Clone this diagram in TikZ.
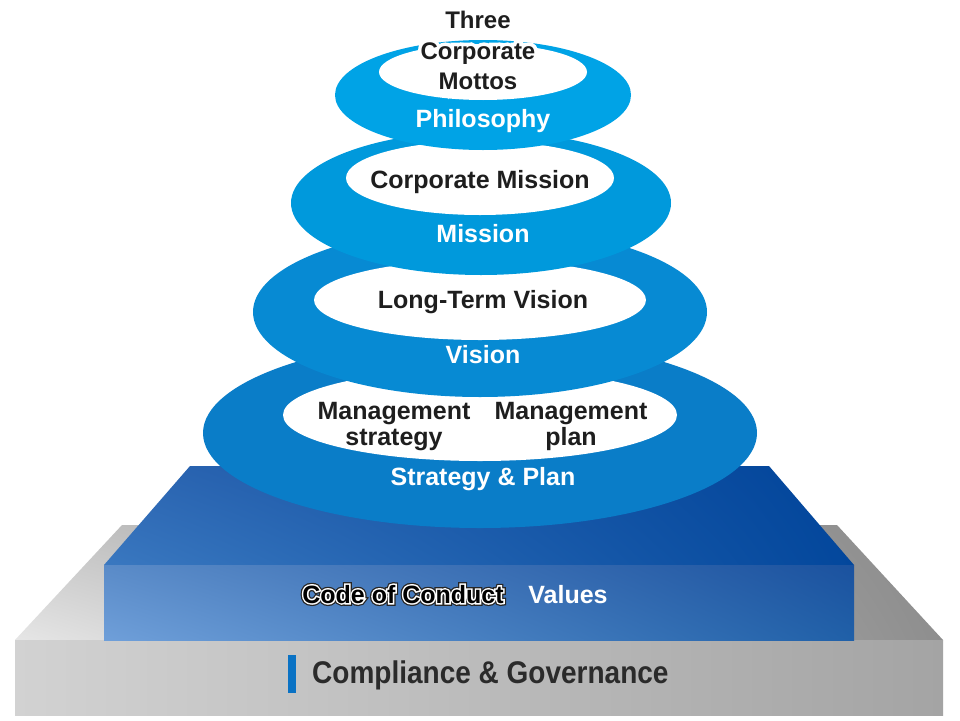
\documentclass[tikz,border=0pt]{standalone}
\usepackage{fontspec}
\setmainfont{Liberation Sans}
\newfontface\haloA{Liberation Sans Bold}[FakeBold=12]
\newfontface\haloB{Liberation Sans Bold}[FakeBold=22]
\newfontface\haloC{Liberation Sans Bold}[FakeBold=30]
\usepackage{graphicx}
\usetikzlibrary{shadings}
\definecolor{philo}{HTML}{00A3E6}
\definecolor{missi}{HTML}{0099DC}
\definecolor{visio}{HTML}{078AD3}
\definecolor{strat}{HTML}{0A7DC8}
\definecolor{ink}{HTML}{1E1E1E}
\definecolor{ink2}{HTML}{2B2B2B}
\definecolor{barblue}{HTML}{0A72C4}
\definecolor{gTL}{HTML}{C4C4C4}
\definecolor{gBL}{HTML}{E6E6E6}
\definecolor{gTR}{HTML}{8A8A8A}
\definecolor{gBR}{HTML}{8E8E8E}
\definecolor{gFL}{HTML}{D2D2D2}
\definecolor{gFR}{HTML}{A4A4A4}
\definecolor{bTL}{HTML}{2D66B2}
\definecolor{bBL}{HTML}{3A78C0}
\definecolor{bTR}{HTML}{00449A}
\definecolor{bBR}{HTML}{03479C}
\definecolor{fTL}{HTML}{5A8BC8}
\definecolor{fBL}{HTML}{6F9FD9}
\definecolor{fTR}{HTML}{1B529F}
\definecolor{fBR}{HTML}{2060A8}
\tikzset{
  lbl/.style={font=\bfseries\fontsize{25}{30}\selectfont, inner sep=0pt, anchor=base},
  lblsm/.style={font=\bfseries\fontsize{24}{30}\selectfont, inner sep=0pt, anchor=base},
  haloa/.style={font=\haloA\fontsize{25}{30}\selectfont, inner sep=0pt, anchor=base},
  halob/.style={font=\haloB\fontsize{25}{30}\selectfont, inner sep=0pt, anchor=base},
  halosm/.style={font=\haloC\fontsize{24}{30}\selectfont, inner sep=0pt, anchor=base},
}
\begin{document}
\begin{tikzpicture}[x=1pt,y=-1pt]
\useasboundingbox (0,0) rectangle (960,720);
\fill[white] (0,0) rectangle (960,720);
% gray base
\shade[upper left=gTL, lower left=gBL, upper right=gTR, lower right=gBR]
  (122,525) -- (837,525) -- (943,640) -- (15,640) -- cycle;
\shade[left color=gFL, right color=gFR] (15,640) rectangle (943,715);
% blue box
\shade[upper left=bTL, lower left=bBL, upper right=bTR, lower right=bBR]
  (190,466) -- (769,466) -- (854,565) -- (104,565) -- cycle;
\shade[upper left=fTL, lower left=fBL, upper right=fTR, lower right=fBR]
  (104,565) rectangle (854,640);
% strategy
\fill[strat] (480,433) ellipse [x radius=277pt, y radius=95pt];
\fill[white] (480,415) ellipse [x radius=197pt, y radius=46pt];
% vision
\fill[visio] (480,312) ellipse [x radius=227pt, y radius=85pt];
\fill[white] (480,300) ellipse [x radius=166pt, y radius=40pt];
% mission
\fill[missi] (481,203) ellipse [x radius=190pt, y radius=72pt];
\fill[white] (480,178) ellipse [x radius=134pt, y radius=37pt];
% philosophy
\fill[philo] (483,95) ellipse [x radius=148pt, y radius=55pt];
\fill[white] (483,72) ellipse [x radius=104pt, y radius=28pt];
% texts
\node[halosm,text=white] (threeh) at (478,28.5) {Three};
\node[halosm,text=white] (corph) at (478,59) {Corporate};
\node[halosm,text=white] (mottosh) at (478,89.5) {Mottos};
\node[lblsm,text=ink] (three) at (478,28.5) {Three};
\node[lblsm,text=ink] (corp) at (478,59) {Corporate};
\node[lblsm,text=ink] (mottos) at (478,89.5) {Mottos};
\node[lbl,text=white] (philo) at (483,127) {Philosophy};
\node[lbl,text=ink] (cmission) at (480,188) {Corporate Mission};
\node[lbl,text=white] (mission) at (483,242) {Mission};
\node[lbl,text=ink] (ltvision) at (483,308) {Long-Term Vision};
\node[lbl,text=white] (vision) at (483,363) {Vision};
\node[lbl,text=ink] (ms1) at (394,419) {Management};
\node[lbl,text=ink] (ms2) at (394,445) {strategy};
\node[lbl,text=ink] (mp1) at (571,419) {Management};
\node[lbl,text=ink] (mp2) at (571,445) {plan};
\node[lbl,text=white] (strat) at (483,485) {Strategy \& Plan};
% code of conduct
\node[halob,text=black!85] (cocb) at (403,603) {Code of Conduct};
\node[haloa,text=white] (cocw) at (403,603) {Code of Conduct};
\node[lbl,text=black] (coc) at (403,603) {Code of Conduct};
\node[lbl,text=white] (values) at (568,603) {Values};
% compliance
\fill[barblue] (288,655) rectangle (296,693);
\node[font=\bfseries\fontsize{28}{32}\selectfont, inner sep=0pt, anchor=base west, text=ink2] (comp)
  at (312,683) {\scalebox{1}[1.12]{Compliance \& Governance}};
\end{tikzpicture}
\end{document}
